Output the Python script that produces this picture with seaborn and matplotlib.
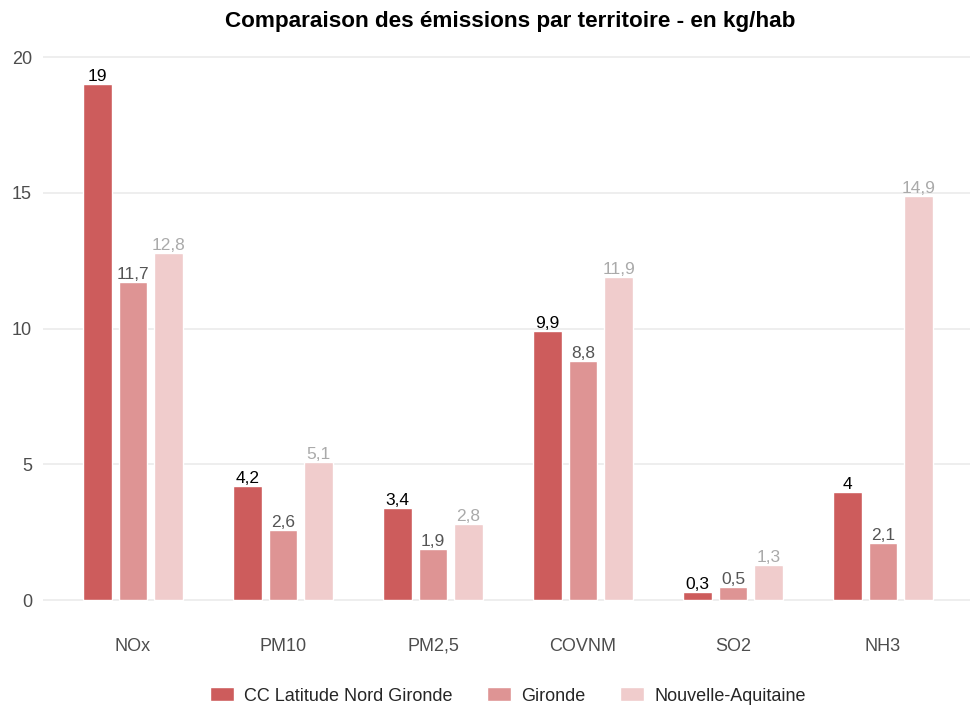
import pandas as pd
import matplotlib.pyplot as plt
import seaborn as sns

sns.set_theme(style='whitegrid')
plt.rcParams['font.family'] = ['Liberation Sans', 'DejaVu Sans']

polluants = ['NOx', 'PM10', 'PM2,5', 'COVNM', 'SO2', 'NH3']
territoires = ['CC Latitude Nord Gironde', 'Gironde', 'Nouvelle-Aquitaine']
cc_lng = [19, 4.2, 3.4, 9.9, 0.3, 4]
gironde = [11.7, 2.6, 1.9, 8.8, 0.5, 2.1]
nouvelle_aquitaine = [12.8, 5.1, 2.8, 11.9, 1.3, 14.9]

couleurs = ['#cd5c5c', '#de9494', '#f0cccc']
couleurs_texte = ['#000000', '#555555', '#aaaaaa']

df = pd.DataFrame({
    'polluant': polluants * 3,
    'territoire': [t for t in territoires for _ in polluants],
    'valeur': cc_lng + gironde + nouvelle_aquitaine,
})


def fmt(v):
    """Format a value with French decimal comma"""
    s = '{:g}'.format(v)
    return s.replace('.', ',')


fig = plt.figure(figsize=(9.71, 7.05), dpi=100)
ax = fig.add_axes([43 / 971, 79 / 705, 927 / 971, 586 / 705])

sns.barplot(data=df, x='polluant', y='valeur', hue='territoire',
            order=polluants, hue_order=territoires, palette=couleurs,
            width=0.71, gap=0.21, saturation=1, ax=ax, legend=True)

for container, col in zip(ax.containers, couleurs_texte):
    ax.bar_label(container, labels=[fmt(v) for v in container.datavalues],
                 color=col, fontsize=12.5, padding=0)

ax.set_xlim(-0.6, 5.58)
ax.set_ylim(-0.95, 20.63)
ax.set_yticks([0, 5, 10, 15, 20])
ax.set_xlabel('')
ax.set_ylabel('')
ax.grid(axis='x', visible=False)
ax.grid(axis='y', color='#ebebeb', linewidth=1.2)
ax.tick_params(axis='both', labelsize=13, labelcolor='#4d4d4d', length=0)
ax.tick_params(axis='x', pad=8.5)
ax.tick_params(axis='y', pad=8)
for s in ax.spines.values():
    s.set_visible(False)

fig.text(510 / 971, 1 - 22 / 705,
         'Comparaison des émissions par territoire - en kg/hab',
         fontsize=16.2, fontweight='bold', color='black',
         ha='center', va='center')

handles, labels = ax.get_legend_handles_labels()
ax.get_legend().remove()
fig.legend(handles, labels, loc='center',
           bbox_to_anchor=(508 / 971, 1 - 696 / 705),
           ncol=3, frameon=False, fontsize=13, handlelength=1.3,
           handleheight=0.8, handletextpad=0.6, columnspacing=1.9)

fig.savefig('out.png', dpi=100)
